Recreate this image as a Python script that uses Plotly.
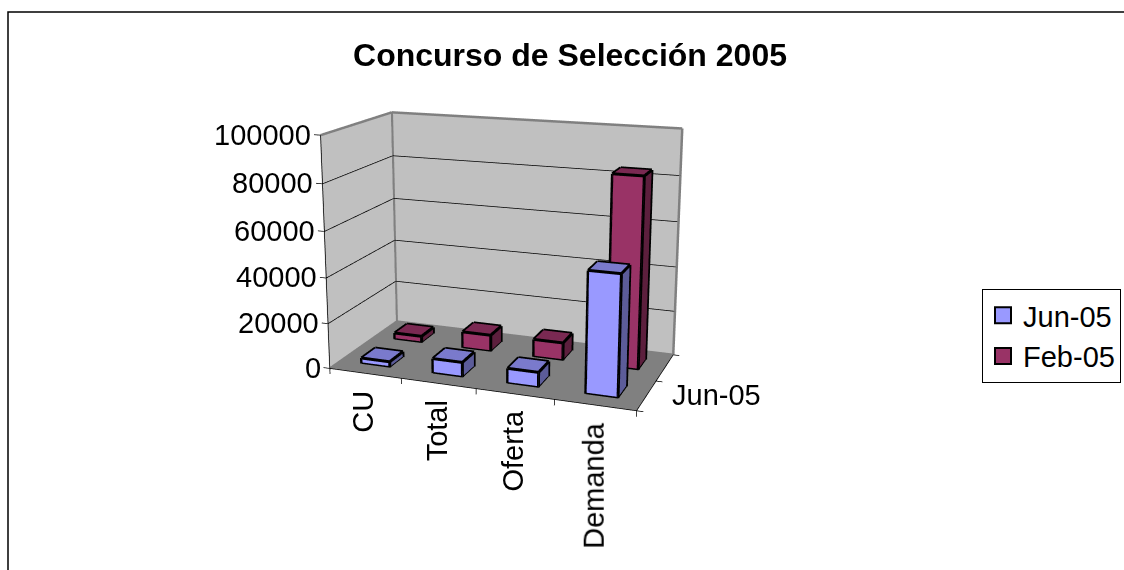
import plotly.graph_objects as go

categories = ["CU", "Total", "Oferta", "Demanda"]
jun_05 = [2500, 6500, 6500, 51500]
feb_05 = [3000, 7500, 8000, 83600]
z_ticks = [0, 20000, 40000, 60000, 80000, 100000]
series_names = ["Jun-05", "Feb-05"]

XR, YR, ZR = [-0.5, 4.5], [-0.5, 2.5], [-10000, 110000]
FIG_W, FIG_H, PAGE_SHIFT = 1124, 978, 242

def py(v):
    return 1 - (v + PAGE_SHIFT) / FIG_H

JUN = ("#9999FF", "#7A7ACC", "#5C5C99")
FEB = ("#993366", "#7A2952", "#5C1F3D")
BW = 0.4
FLAT = dict(ambient=1, diffuse=0, specular=0, roughness=1, fresnel=0)

def box_mesh(x0, x1, y0, y1, z0, z1, cols, name):
    X = [x0, x1, x1, x0, x0, x1, x1, x0]
    Y = [y0, y0, y1, y1, y0, y0, y1, y1]
    Z = [z0, z0, z0, z0, z1, z1, z1, z1]
    I = [0, 0, 4, 4, 1, 1, 0, 0, 3, 3, 0, 0]
    J = [1, 2, 5, 6, 2, 6, 1, 5, 2, 6, 3, 7]
    K = [2, 3, 6, 7, 6, 5, 5, 4, 6, 7, 7, 4]
    fc = [cols[0]] * 2 + [cols[1]] * 2 + [cols[2]] * 2 + [cols[0]] * 4 + [cols[2]] * 2
    return go.Mesh3d(x=X, y=Y, z=Z, i=I, j=J, k=K, facecolor=fc, flatshading=True,
                     hoverinfo="skip", showlegend=False, name=name, lighting=FLAT)

def lines(segs, color, width, name):
    xs, ys, zs = [], [], []
    for a, b in segs:
        xs += [a[0], b[0], None]
        ys += [a[1], b[1], None]
        zs += [a[2], b[2], None]
    return go.Scatter3d(x=xs, y=ys, z=zs, mode="lines", line=dict(color=color, width=width),
                        hoverinfo="skip", showlegend=False, name=name)

def box_edges(x0, x1, y0, y1, z0, z1):
    return [((x0, y0, z0), (x1, y0, z0)), ((x1, y0, z0), (x1, y1, z0)),
            ((x0, y0, z1), (x1, y0, z1)), ((x1, y0, z1), (x1, y1, z1)),
            ((x1, y1, z1), (x0, y1, z1)), ((x0, y1, z1), (x0, y0, z1)),
            ((x0, y0, z0), (x0, y0, z1)), ((x1, y0, z0), (x1, y0, z1)),
            ((x1, y1, z0), (x1, y1, z1))]

def quad(P, color):
    return go.Mesh3d(x=[q[0] for q in P], y=[q[1] for q in P], z=[q[2] for q in P],
                     i=[0, 0], j=[1, 2], k=[2, 3], color=color, flatshading=True,
                     hoverinfo="skip", showlegend=False, lighting=FLAT)

ZT = z_ticks[-1]
W, ZW = 0.01, 150
traces = [
    quad([(-W, 0, -ZW), (-W, 2, -ZW), (-W, 2, ZT), (-W, 0, ZT)], "#C0C0C0"),
    quad([(-W, 2 + W, -ZW), (4, 2 + W, -ZW), (4, 2 + W, ZT), (-W, 2 + W, ZT)], "#C0C0C0"),
    quad([(0, 0, -ZW), (4, 0, -ZW), (4, 2, -ZW), (0, 2, -ZW)], "#808080"),
]
traces.append(lines([((0, 2, z), (4, 2, z)) for z in z_ticks[1:-1]] +
                    [((0, 0, z), (0, 2, z)) for z in z_ticks[1:-1]], "#000000", 1.5, "grid"))
traces.append(lines([((0, 0, ZT), (0, 2, ZT)), ((0, 2, ZT), (4, 2, ZT)), ((0, 2, 0), (0, 2, ZT)),
                     ((4, 2, 0), (4, 2, ZT)), ((0, 2, 0), (4, 2, 0)), ((0, 0, 0), (0, 2, 0))],
                    "#808080", 5, "wall"))
ticks = [((0, 0, 0), (0, 0, ZT))] + [((-0.09, 0, z), (0, 0, z)) for z in z_ticks]
ticks += [((0, 0, 0), (4, 0, 0)), ((4, 0, 0), (4, 2, 0))]
ticks += [((i, 0, -2500), (i, 0, 0)) for i in range(5)]
ticks += [((4, j, 0), (4.08, j, 0)) for j in range(3)]
traces.append(lines(ticks, "#000000", 1.5, "axes"))

EPS = 0.004
for yc, vals, cols, nm in [(0.5, jun_05, JUN, series_names[0]), (1.5, feb_05, FEB, series_names[1])]:
    segs = []
    for i, v in enumerate(vals):
        x0, x1 = i + .5 - BW / 2, i + .5 + BW / 2
        y0, y1 = yc - BW / 2, yc + BW / 2
        traces.append(box_mesh(x0 + EPS, x1 - EPS, y0 + EPS, y1 - EPS, 0, v - 60, cols, nm))
        segs += box_edges(x0, x1, y0, y1, 0, v)
    traces.append(lines(segs, "#000000", 6, nm))
    traces.append(go.Scatter3d(x=[None], y=[None], z=[None], mode="markers", name=nm,
                               marker=dict(symbol="square", size=16, color=cols[0],
                                           line=dict(color="#000000", width=2))))

FS = 29
FONT = "Liberation Sans"
TXT = dict(family=FONT, size=FS, color="#000")
ann = [dict(x=-0.09, y=0, z=z, text=str(z), showarrow=False, xanchor="right", xshift=-1, font=TXT) for z in z_ticks]
ann += [dict(x=i + .5, y=0, z=0, text=c, showarrow=False, textangle=-90, xanchor="center",
             yanchor="top", yshift=-15, xshift=-2, font=TXT) for i, c in enumerate(categories)]
ann += [dict(x=4.08, y=0.5, z=0, text=series_names[0], showarrow=False, xanchor="left",
             xshift=17, yshift=1, font=TXT)]

ax = dict(visible=False, showgrid=False, zeroline=False, showbackground=False)
fig = go.Figure(traces)
fig.update_layout(
    width=FIG_W, height=FIG_H, margin=dict(l=0, r=0, t=0, b=0), paper_bgcolor="#fff",
    title=dict(text="Concurso de Selección 2005", x=570 / FIG_W, xanchor="center", y=py(55), yanchor="middle",
               font=dict(family=FONT, size=32, color="#000", weight="bold")),
    scene=dict(domain=dict(x=[0, 2 * 500.745 / FIG_W], y=[0, 1]), aspectmode="manual",
               aspectratio=dict(x=1, y=0.602, z=0.720),
               camera=dict(eye=dict(x=0.984, y=-2.705, z=0.771), center=dict(x=0.251, y=-0.711, z=0.207),
                           up=dict(x=0.001, y=0.003, z=1), projection=dict(type="perspective")),
               xaxis=dict(range=XR, **ax), yaxis=dict(range=YR, **ax), zaxis=dict(range=ZR, **ax),
               bgcolor="rgba(0,0,0,0)", annotations=ann),
    legend=dict(x=982 / FIG_W, y=py(289), xanchor="left", yanchor="top", bordercolor="#000", borderwidth=1,
                bgcolor="#fff", font=TXT),
    shapes=[dict(type="rect", xref="paper", yref="paper", x0=8 / FIG_W, x1=1.1, y0=-0.1, y1=py(12),
                 line=dict(color="#000", width=1.5))],
)
fig.write_html("out.html", config=dict(displayModeBar=False),
               post_script=f"document.documentElement.style.overflow='hidden';document.body.style.margin='-{PAGE_SHIFT}px 0 0 0';")
